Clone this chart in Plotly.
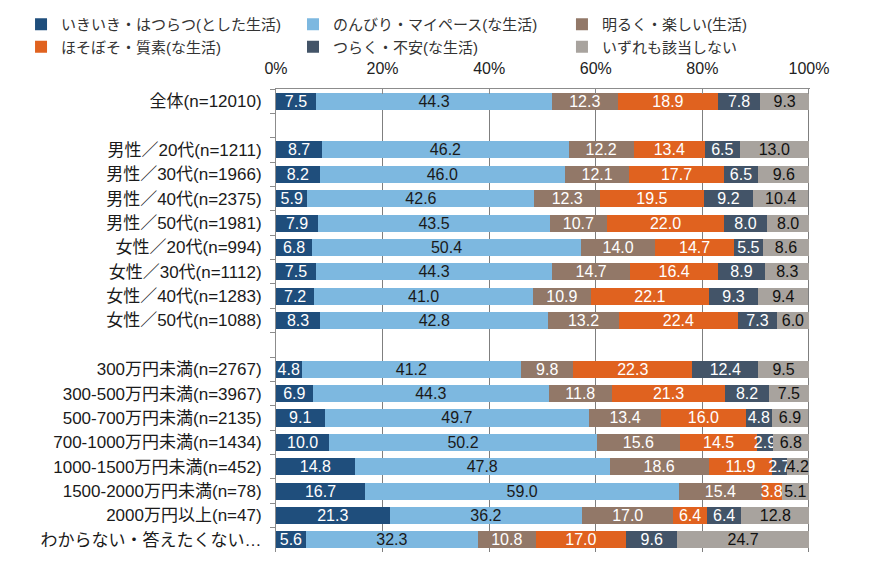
import plotly.graph_objects as go

categories = [
    "全体(n=12010)", " ",
    "男性／20代(n=1211)", "男性／30代(n=1966)", "男性／40代(n=2375)", "男性／50代(n=1981)",
    "女性／20代(n=994)", "女性／30代(n=1112)", "女性／40代(n=1283)", "女性／50代(n=1088)", "  ",
    "300万円未満(n=2767)", "300-500万円未満(n=3967)", "500-700万円未満(n=2135)",
    "700-1000万円未満(n=1434)", "1000-1500万円未満(n=452)", "1500-2000万円未満(n=78)",
    "2000万円以上(n=47)", "わからない・答えたくない…",
]

series_names = [
    "いきいき・はつらつ(とした生活)",
    "のんびり・マイペース(な生活)",
    "明るく・楽しい(生活)",
    "ほそぼそ・質素(な生活)",
    "つらく・不安(な生活)",
    "いずれも該当しない",
]

ikiiki = [7.5, None, 8.7, 8.2, 5.9, 7.9, 6.8, 7.5, 7.2, 8.3, None, 4.8, 6.9, 9.1, 10.0, 14.8, 16.7, 21.3, 5.6]
nonbiri = [44.3, None, 46.2, 46.0, 42.6, 43.5, 50.4, 44.3, 41.0, 42.8, None, 41.2, 44.3, 49.7, 50.2, 47.8, 59.0, 36.2, 32.3]
akaruku = [12.3, None, 12.2, 12.1, 12.3, 10.7, 14.0, 14.7, 10.9, 13.2, None, 9.8, 11.8, 13.4, 15.6, 18.6, 15.4, 17.0, 10.8]
hosoboso = [18.9, None, 13.4, 17.7, 19.5, 22.0, 14.7, 16.4, 22.1, 22.4, None, 22.3, 21.3, 16.0, 14.5, 11.9, 3.8, 6.4, 17.0]
tsuraku = [7.8, None, 6.5, 6.5, 9.2, 8.0, 5.5, 8.9, 9.3, 7.3, None, 12.4, 8.2, 4.8, 2.9, 2.7, 0.0, 6.4, 9.6]
izuremo = [9.3, None, 13.0, 9.6, 10.4, 8.0, 8.6, 8.3, 9.4, 6.0, None, 9.5, 7.5, 6.9, 6.8, 4.2, 5.1, 12.8, 24.7]

tick_vals = [0, 20, 40, 60, 80, 100]
tick_text = ["0%", "20%", "40%", "60%", "80%", "100%"]

series_values = [ikiiki, nonbiri, akaruku, hosoboso, tsuraku, izuremo]
colors = ["#1F4E7C", "#7DB8E0", "#927868", "#E0621F", "#435468", "#A8A39E"]
text_colors = ["#FFFFFF", "#1A1A1A", "#FFFFFF", "#FFFFFF", "#FFFFFF", "#111111"]
legend_ids = ["legend", "legend2", "legend3", "legend", "legend2", "legend3"]

FONT = "Liberation Sans, Arial, Noto Sans CJK JP, sans-serif"

fig = go.Figure()
for name, vals, col, tcol, lg in zip(series_names, series_values, colors, text_colors, legend_ids):
    texts = [("" if (v is None or v == 0) else f"{v:.1f}") for v in vals]
    fig.add_trace(go.Bar(
        y=categories, x=vals, name=name, orientation="h",
        marker=dict(color=col, line=dict(width=0)),
        text=texts, textposition="inside", insidetextanchor="middle",
        textangle=0, constraintext="none",
        insidetextfont=dict(color=tcol, size=16, family=FONT),
        legend=lg, hoverinfo="skip",
    ))

W, H = 870, 568
XMAX = 100.2
ml, mt, mb = 276, 89, 16
pw = 533 * XMAX / 100
mr = W - ml - pw
ph = H - mt - mb

def lx(px):
    return (px - ml) / pw

def ly(px):
    return 1 + (mt - px) / ph

legend_common = dict(orientation="v", xanchor="left", yanchor="top", traceorder="normal",
                     bgcolor="rgba(0,0,0,0)", tracegroupgap=0,
                     font=dict(size=15, color="#333333", family=FONT))

fig.update_layout(
    width=W, height=H,
    barmode="stack", bargap=0.3,
    margin=dict(l=ml, r=mr, t=mt, b=mb, autoexpand=False),
    plot_bgcolor="white", paper_bgcolor="white",
    font=dict(family=FONT, color="#222222"),
    legend=dict(x=lx(21), y=ly(8), **legend_common),
    legend2=dict(x=lx(293), y=ly(8), **legend_common),
    legend3=dict(x=lx(562), y=ly(8), **legend_common),
    xaxis=dict(
        side="top", range=[0, XMAX], tickmode="array", tickvals=tick_vals, ticktext=tick_text,
        showgrid=True, gridcolor="#7F7F7F", gridwidth=1,
        showline=True, linecolor="#8C8C8C", linewidth=1,
        ticks="inside", ticklen=5, tickcolor="#8C8C8C",
        zeroline=False, tickfont=dict(size=16, color="#222222", family=FONT),
        ticklabelstandoff=8,
    ),
    yaxis=dict(
        type="category", autorange="reversed", categoryorder="array", categoryarray=categories,
        showline=True, linecolor="#8C8C8C", linewidth=1,
        ticks="outside", tickson="boundaries", ticklen=5, tickcolor="#8C8C8C",
        showgrid=False, zeroline=False, ticklabelstandoff=10,
        tickfont=dict(size=17, color="#1A1A1A", family=FONT),
    ),
)

fig.write_html("out.html")
